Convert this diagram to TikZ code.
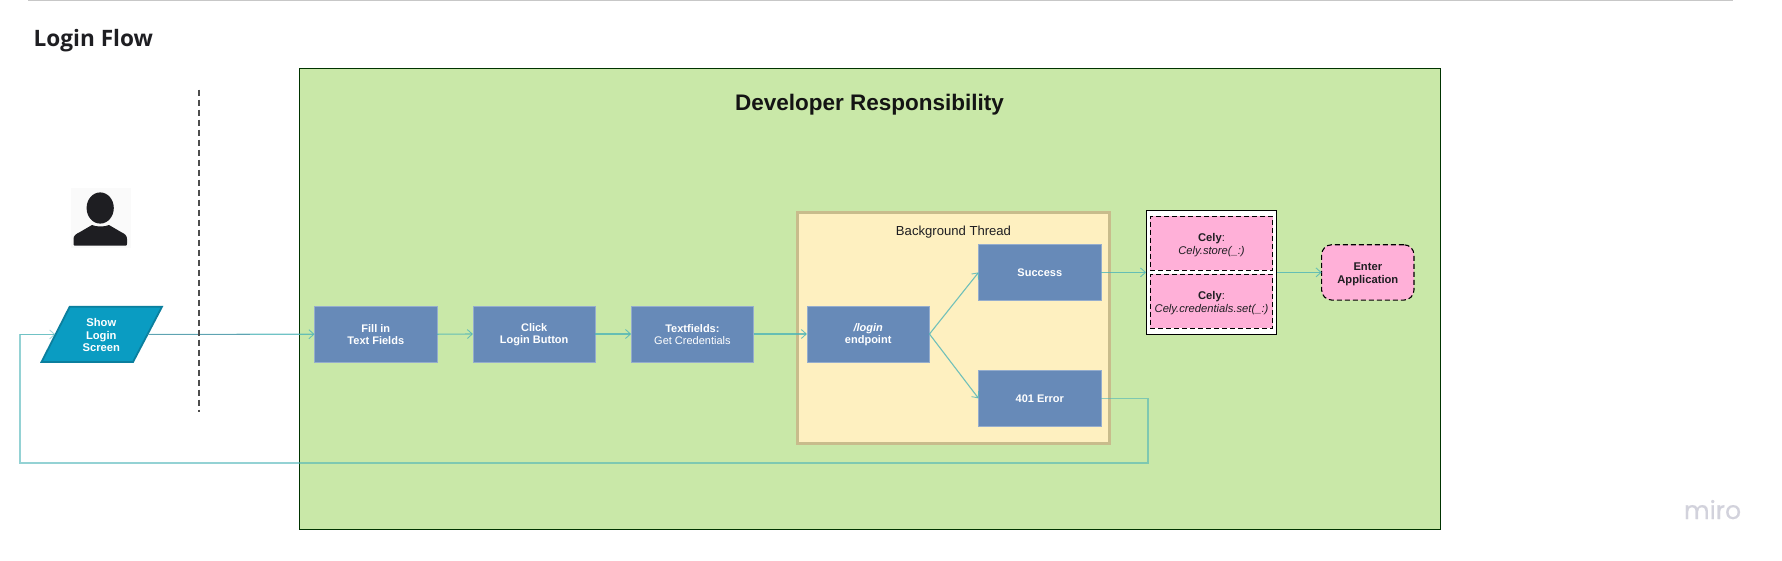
\documentclass[tikz,border=0pt]{standalone}
\usepackage{fontspec}
\setmainfont{Liberation Sans}
\newfontfamily\titlefont{Open Sans}
\newfontfamily\mirofont[FakeBold=0.5]{Poppins}
\usetikzlibrary{arrows.meta}
\definecolor{greenbg}{HTML}{C9E8A8}
\definecolor{stepblue}{HTML}{678AB8}
\definecolor{pinkfill}{HTML}{FFB0D8}
\definecolor{threadfill}{HTML}{FEF0C0}
\definecolor{threadedge}{HTML}{C8BC8C}
\definecolor{linkteal}{HTML}{4DB4B8}
\definecolor{linkdark}{HTML}{5FA3B2}
\definecolor{paraFill}{HTML}{0A9CC2}
\definecolor{paraEdge}{HTML}{0B7F9E}
\definecolor{inkdark}{HTML}{1E1E22}
\definecolor{mirogrey}{HTML}{D2D2DC}
\newcommand\dnstrut[1]{\rule{0pt}{#1pt}}
\tikzset{
  x=1pt,y=-1pt,
  stepbox/.style={rectangle,fill=stepblue,draw=stepblue!70!white,line width=.5pt,text=white,minimum width=122.5pt,minimum height=55.5pt,inner sep=0pt,outer sep=0pt,align=center,font=\fontsize{11}{12.4}\selectfont\bfseries},
  pinkbox/.style={rectangle,fill=pinkfill,draw=black,dashed,dash pattern=on 5pt off 3pt,line width=1.1pt,text=inkdark,minimum width=122.4pt,minimum height=54pt,inner sep=0pt,outer sep=0pt,align=center,font=\fontsize{11.2}{13.4}\selectfont},
  link/.style={draw=linkteal,opacity=.8,line width=1.1pt,-{Straight Barb[length=5pt,width=9pt,line width=.9pt]}},
  backlink/.style={draw=linkteal,opacity=.6,line width=1.6pt,line join=miter}
}
\begin{document}
\begin{tikzpicture}
\useasboundingbox (0,0) rectangle (1782,560);
\fill[white] (0,0) rectangle (1782,560);
% top rule
\coordinate (ruleL) at (28,0.6);
\coordinate (ruleR) at (1733,0.6);
\draw[draw=black!22,line width=1.3pt] (ruleL) -- (ruleR);
\node[anchor=base west,inner sep=0pt,text=inkdark,font=\fontsize{22.6}{26}\titlefont\bfseries] (title) at (33.5,46.8) {Login Flow};
% green area
\node[rectangle,fill=greenbg,draw=black!80!green,line width=.9pt,inner sep=0pt,outer sep=0pt,minimum width=1141pt,minimum height=461pt] (dev) at (869.5,298.5) {};
\node[inner sep=0pt,text=black!92,font=\fontsize{22.5}{26}\selectfont\bfseries] (devlabel) at (869.5,105) {Developer Responsibility};
% thread box
\node[rectangle,fill=threadfill,draw=threadedge,line width=2.6pt,inner sep=0pt,outer sep=0pt,minimum width=312pt,minimum height=231pt] (thread) at (953.5,328.2) {};
\node[inner sep=0pt,text=inkdark,font=\fontsize{13.1}{15}\selectfont] (threadlabel) at (953.5,232.4) {Background Thread};
% user icon
\fill[black!2] (71,188) rectangle (131,248);
\fill[inkdark] (100.2,208) ellipse [x radius=13.6,y radius=15.6];
\fill[inkdark] (74.5,245.5) .. controls (73.5,245.5) and (73.5,244.5) .. (73.5,243.5) -- (73.5,239) .. controls (73.5,235.5) and (76,234) .. (80,232) -- (92,225) .. controls (96,227) and (105,227) .. (109,225) -- (121,232) .. controls (125,234) and (127,235.5) .. (127,239) -- (127,243.5) .. controls (127,244.5) and (127,245.5) .. (126,245.5) -- cycle;
% separator
\coordinate (sepT) at (199,89.5);
\coordinate (sepB) at (199,412);
% parallelogram
\coordinate (p1) at (69.7,306.7);
\coordinate (p2) at (162,306.7);
\coordinate (p3) at (133,362);
\coordinate (p4) at (41.5,362);
\coordinate (showL) at (55.3,334.4);
\coordinate (showR) at (147.5,334.4);
\coordinate (darkEnd) at (250,334.4);
\draw[fill=paraFill,draw=paraEdge,line width=1.8pt,line join=miter] (p1) -- (p2) -- (p3) -- (p4) -- cycle;
\node[inner sep=0pt,text=white,align=center,font=\fontsize{11.2}{12.8}\selectfont\bfseries] (show) at (101.3,335) {Show\\Login\\Screen};
% steps
\node[stepbox] (fill) at (375.8,334.2) {\dnstrut{9}Fill in\\Text Fields};
\node[stepbox,minimum height=56pt] (click) at (534.2,334) {\dnstrut{9}Click\\Login Button};
\node[stepbox,minimum height=56pt] (tf) at (692.4,334) {\dnstrut{9}Textfields:\\\mdseries Get Credentials};
\node[stepbox,minimum height=56pt] (login) at (868.2,334) {\dnstrut{9}\itshape /login\\endpoint};
\node[stepbox] (succ) at (1039.8,272.4) {Success};
\node[stepbox] (err) at (1039.8,398.4) {401 Error};
% cely group
\node[rectangle,fill=white,draw=black,line width=1.2pt,inner sep=0pt,outer sep=0pt,minimum width=130.6pt,minimum height=123.4pt] (cely) at (1211.4,272.4) {};
\node[pinkbox] (store) at (1211.5,243.3) {\dnstrut{12}\textbf{Cely}:\\\itshape Cely.store(\_:)};
\node[pinkbox] (cred) at (1211.5,301.3) {\dnstrut{12}\textbf{Cely}:\\\itshape Cely.credentials.set(\_:)};
\node[pinkbox,rounded corners=10pt,minimum width=92.3pt,minimum height=55.3pt,font=\fontsize{11.2}{13}\selectfont\bfseries] (enter) at (1367.8,272.4) {\dnstrut{11}Enter\\Application};
% connectors
\draw[link] (showR) -- (fill.west);
\draw[draw=linkdark,line width=1.1pt] (showR) -- (darkEnd);
\draw[link] (fill.east) -- (click.west);
\draw[link] (click.east) -- (tf.west);
\draw[link] (tf.east) -- (login.west);
\draw[link] (login.east) -- (succ.west);
\draw[link] (login.east) -- (err.west);
\draw[link] (succ.east) -- (cely.west);
\draw[link] (cely.east) -- (enter.west);
\coordinate (loopA) at (1148,463);
\coordinate (loopB) at (20,463);
\draw[backlink] (err.east) -| (loopA) -- (loopB) -- (loopB |- showL) -- (showL);
\draw[link,opacity=.5,line width=.8pt] (loopB |- showL) -- (showL);
\draw[draw=black!70,line width=1.3pt,dash pattern=on 6pt off 4pt] (sepT) -- (sepB);
\node[inner sep=0pt,anchor=base,text=mirogrey,font=\fontsize{25}{28}\mirofont] (miro) at (1712.5,519) {miro};
\end{tikzpicture}
\end{document}
